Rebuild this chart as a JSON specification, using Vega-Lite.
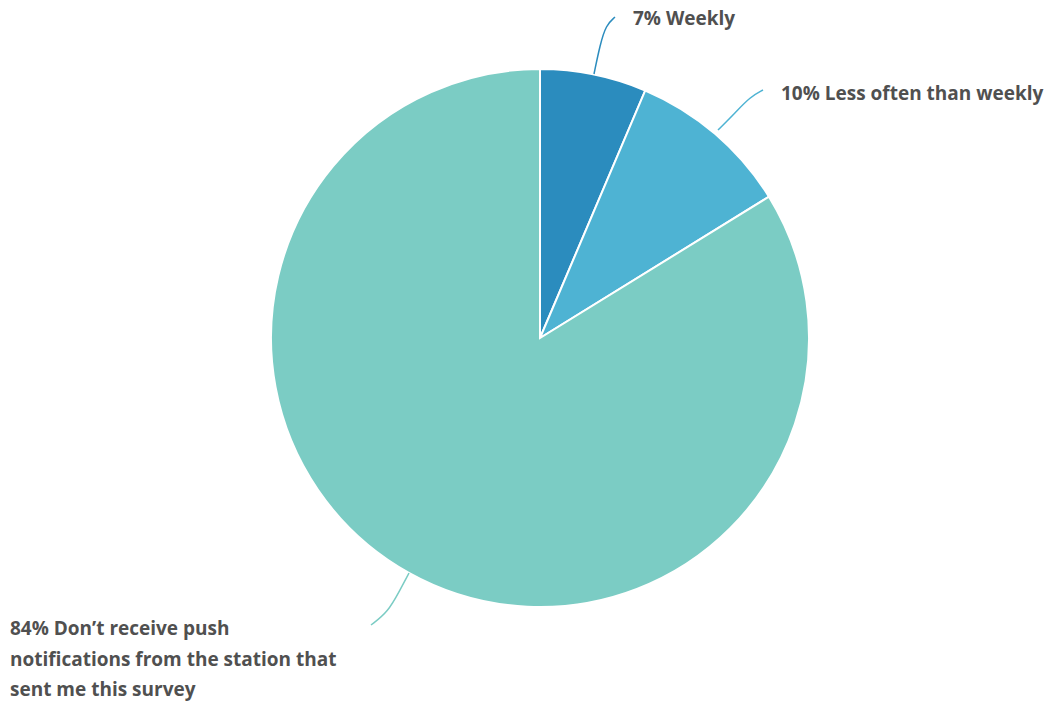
{
  "$schema": "https://vega.github.io/schema/vega-lite/v6.json",
  "width": 1057,
  "height": 703,
  "padding": 0,
  "autosize": {"type": "none"},
  "background": "white",
  "config": {"view": {"stroke": null}},
  "datasets": {
    "slices": [
      {"answer": "Weekly", "share": 6.4, "rank": 1},
      {"answer": "Less often than weekly", "share": 9.8, "rank": 2},
      {"answer": "Don't receive push notifications from the station that sent me this survey", "share": 83.8, "rank": 3}
    ],
    "leaders": [
      {"answer": "Weekly", "step": 1, "x": 54, "y": 264},
      {"answer": "Weekly", "step": 2, "x": 60, "y": 293},
      {"answer": "Weekly", "step": 3, "x": 66, "y": 313},
      {"answer": "Weekly", "step": 4, "x": 75, "y": 321},
      {"answer": "Less often than weekly", "step": 1, "x": 178, "y": 208},
      {"answer": "Less often than weekly", "step": 2, "x": 195, "y": 225},
      {"answer": "Less often than weekly", "step": 3, "x": 210, "y": 241},
      {"answer": "Less often than weekly", "step": 4, "x": 223, "y": 248},
      {"answer": "Don't receive push notifications from the station that sent me this survey", "step": 1, "x": -131, "y": -235},
      {"answer": "Don't receive push notifications from the station that sent me this survey", "step": 2, "x": -140, "y": -252},
      {"answer": "Don't receive push notifications from the station that sent me this survey", "step": 3, "x": -152, "y": -274},
      {"answer": "Don't receive push notifications from the station that sent me this survey", "step": 4, "x": -169, "y": -287}
    ],
    "labels": [
      {"label": "7% Weekly", "x": 93, "y": 319},
      {"label": "10% Less often than weekly", "x": 241, "y": 244},
      {"label": "84% Don’t receive push\nnotifications from the station that\nsent me this survey", "x": -530, "y": -291}
    ]
  },
  "layer": [
    {
      "data": {"name": "slices"},
      "mark": {"type": "arc", "outerRadius": 269, "stroke": "white", "strokeWidth": 2},
      "encoding": {
        "x": {"datum": 0, "type": "quantitative", "scale": {"domain": [-540, 517], "nice": false, "zero": false}, "axis": null},
        "y": {"datum": 0, "type": "quantitative", "scale": {"domain": [-365, 338], "nice": false, "zero": false}, "axis": null},
        "theta": {"field": "share", "type": "quantitative", "stack": true},
        "order": {"field": "rank", "type": "quantitative"},
        "color": {
          "field": "answer",
          "type": "nominal",
          "scale": {
            "domain": ["Weekly", "Less often than weekly", "Don't receive push notifications from the station that sent me this survey"],
            "range": ["#2b8cbe", "#4eb3d3", "#7bccc4"]
          },
          "legend": null
        }
      }
    },
    {
      "data": {"name": "leaders"},
      "mark": {"type": "line", "interpolate": "basis", "strokeWidth": 1.5},
      "encoding": {
        "x": {"field": "x", "type": "quantitative", "scale": {"domain": [-540, 517], "nice": false, "zero": false}, "axis": null},
        "y": {"field": "y", "type": "quantitative", "scale": {"domain": [-365, 338], "nice": false, "zero": false}, "axis": null},
        "order": {"field": "step", "type": "quantitative"},
        "color": {"field": "answer", "type": "nominal", "legend": null}
      }
    },
    {
      "data": {"name": "labels"},
      "mark": {"type": "text", "align": "left", "baseline": "middle", "font": "Open Sans", "fontWeight": "bold", "fontSize": 19, "lineHeight": 30.5, "lineBreak": "\n", "color": "#505050"},
      "encoding": {
        "x": {"field": "x", "type": "quantitative", "scale": {"domain": [-540, 517], "nice": false, "zero": false}, "axis": null},
        "y": {"field": "y", "type": "quantitative", "scale": {"domain": [-365, 338], "nice": false, "zero": false}, "axis": null},
        "text": {"field": "label"}
      }
    }
  ]
}
